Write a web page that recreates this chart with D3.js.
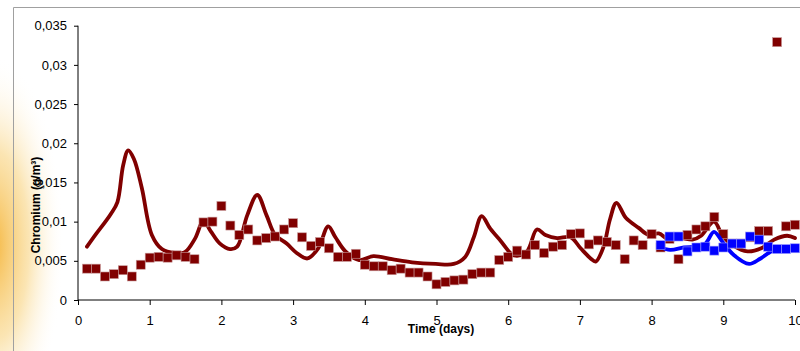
<!DOCTYPE html>
<html>
<head>
<meta charset="utf-8">
<script src="https://cdn.jsdelivr.net/npm/d3@7"></script>
<style>
  body { margin: 0; background: #fff; }
  svg { display: block; font-family: "Liberation Sans", Arial, sans-serif; }
</style>
</head>
<body>
<script>
// measured chromium (red squares), every 3 h
const measX = d3.range(1, 81).map(i => i * 0.125);
const measY = [
  0.0040, 0.0040, 0.0030, 0.0033, 0.0038, 0.0030, 0.0045, 0.0054, 0.0055, 0.0054,
  0.0057, 0.0055, 0.0052, 0.0099, 0.0100, 0.0120, 0.0095, 0.0083, 0.0090, 0.0076,
  0.0079, 0.0081, 0.0090, 0.0098, 0.0080, 0.0069, 0.0074, 0.0066, 0.0055, 0.0055,
  0.0059, 0.0045, 0.0043, 0.0043, 0.0038, 0.0040, 0.0035, 0.0035, 0.0030, 0.0020,
  0.0023, 0.0025, 0.0026, 0.0033, 0.0035, 0.0035, 0.0051, 0.0055, 0.0063, 0.0058,
  0.0070, 0.0060, 0.0068, 0.0070, 0.0084, 0.0085, 0.0071, 0.0076, 0.0074, 0.0070,
  0.0052, 0.0076, 0.0070, 0.0084, 0.0067, 0.0078, 0.0052, 0.0083, 0.0090, 0.0094,
  0.0106, 0.0084, 0.0072, 0.0072, 0.0080, 0.0088, 0.0088, 0.0329, 0.0094, 0.0096
];
// second measured series (blue squares)
const blueX = d3.range(65, 81).map(i => i * 0.125);
const blueY = [
  0.0070, 0.0081, 0.0081, 0.0062, 0.0067, 0.0068, 0.0063, 0.0067,
  0.0072, 0.0072, 0.0081, 0.0077, 0.0068, 0.0065, 0.0065, 0.0066
];
// modelled curves
const modelX = [0.125, 0.25, 0.375, 0.46, 0.55, 0.63, 0.70, 0.78, 0.89, 1.03, 1.17, 1.35, 1.49, 1.63, 1.75,
  1.85, 1.98, 2.12, 2.22, 2.36, 2.50, 2.63, 2.75, 2.91, 3.05, 3.20, 3.35, 3.49, 3.59, 3.73, 3.92,
  4.12, 4.38, 4.66, 4.99, 5.24, 5.40, 5.52, 5.63, 5.75, 5.89, 6.08, 6.26, 6.40, 6.52, 6.68, 6.87,
  7.01, 7.15, 7.22, 7.33, 7.42, 7.51, 7.64, 7.82, 7.96, 8.10, 8.24, 8.41, 8.57, 8.69, 8.87, 8.99,
  9.13, 9.34, 9.53, 9.71, 9.89, 10.0];
const modelY = [0.0068, 0.0084, 0.0099, 0.0110, 0.0125, 0.0172, 0.0191, 0.0180, 0.0143, 0.0083, 0.0065, 0.0060, 0.0061, 0.0078, 0.0101,
  0.0088, 0.0072, 0.0065, 0.0068, 0.0108, 0.0134, 0.0108, 0.0083, 0.0072, 0.0060, 0.0053, 0.0066, 0.0094, 0.0080, 0.0062, 0.0051,
  0.0056, 0.0052, 0.0048, 0.0046, 0.0046, 0.0055, 0.0080, 0.0107, 0.0091, 0.0076, 0.0057, 0.0062, 0.0090, 0.0083, 0.0079, 0.0080,
  0.0066, 0.0053, 0.0049, 0.0068, 0.0103, 0.0124, 0.0105, 0.0092, 0.0083, 0.0085, 0.0077, 0.0079, 0.0077, 0.0082, 0.0100, 0.0082,
  0.0070, 0.0062, 0.0066, 0.0077, 0.0082, 0.0079];
const blueModelX = [8.10, 8.26, 8.45, 8.63, 8.75, 8.87, 8.99, 9.15, 9.36, 9.52, 9.71, 9.89, 10.0];
const blueModelY = [0.0068, 0.0064, 0.0067, 0.0068, 0.0072, 0.0087, 0.0074, 0.0057, 0.0046, 0.0053, 0.0064, 0.0066, 0.0066];

const yTicks = [0, 0.005, 0.01, 0.015, 0.02, 0.025, 0.03, 0.035];
const xTicks = d3.range(0, 11);

const width = 800, height = 351;
const svg = d3.select('body').append('svg').attr('width', width).attr('height', height);

// orange glow at the left edge
const defs = svg.append('defs');
const glow = defs.append('radialGradient').attr('id', 'glow')
  .attr('cx', 0.5).attr('cy', 0.5).attr('r', 0.5);
glow.append('stop').attr('offset', '0%').attr('stop-color', '#f4b02e').attr('stop-opacity', 0.9);
glow.append('stop').attr('offset', '50%').attr('stop-color', '#f7cb68').attr('stop-opacity', 0.5);
glow.append('stop').attr('offset', '100%').attr('stop-color', '#fff').attr('stop-opacity', 0);
svg.append('ellipse').attr('cx', -6).attr('cy', 245).attr('rx', 70).attr('ry', 190).attr('fill', 'url(#glow)');

// chart frame
svg.append('path').attr('d', 'M13.5,351 V7.5 H800')
  .attr('fill', 'none').attr('stroke', '#a0a0a0').attr('stroke-width', 1);

const x = d3.scaleLinear().domain([0, 10]).range([78, 795]);
const y = d3.scaleLinear().domain([0, 0.035]).range([300, 25.7]);

const fmt = d => d === 0 ? '0' : String(+d.toFixed(3)).replace('.', ',');

const yAxis = svg.append('g').attr('transform', 'translate(78,0)')
  .call(d3.axisLeft(y).tickValues(yTicks).tickFormat(fmt).tickSize(4).tickPadding(7));
const xAxis = svg.append('g').attr('transform', 'translate(0,300)')
  .call(d3.axisBottom(x).tickValues(xTicks).tickFormat(d3.format('d')).tickSize(5).tickPadding(11));
[yAxis, xAxis].forEach(g => {
  g.select('.domain').attr('stroke', '#000');
  g.selectAll('.tick line').attr('stroke', '#000');
  g.selectAll('text').attr('font-size', 13).attr('fill', '#000')
    .attr('font-family', '"Liberation Sans", Arial, sans-serif');
});
yAxis.select('.domain').attr('d', 'M0,' + y(0) + 'V' + y(0.035));
xAxis.select('.domain').attr('d', 'M' + x(0) + ',0H' + x(10));

// model lines
const line = d3.line().x(d => x(d[0])).y(d => y(d[1])).curve(d3.curveCatmullRom.alpha(0.5));
svg.append('path').datum(d3.zip(modelX, modelY)).attr('d', line)
  .attr('fill', 'none').attr('stroke', '#800000').attr('stroke-width', 3.8)
  .attr('stroke-linejoin', 'round').attr('stroke-linecap', 'round');

// red squares
const sz = 9;
svg.append('g').selectAll('rect').data(d3.zip(measX, measY)).enter().append('rect')
  .attr('x', d => x(d[0]) - sz / 2).attr('y', d => y(d[1]) - sz / 2)
  .attr('width', sz).attr('height', sz)
  .attr('fill', '#800000').attr('stroke', '#c89a9a').attr('stroke-width', 0.6);

svg.append('path').datum(d3.zip(blueModelX, blueModelY)).attr('d', line)
  .attr('fill', 'none').attr('stroke', '#0000ff').attr('stroke-width', 3.8)
  .attr('stroke-linejoin', 'round').attr('stroke-linecap', 'round');

svg.append('g').selectAll('rect').data(d3.zip(blueX, blueY)).enter().append('rect')
  .attr('x', d => x(d[0]) - sz / 2).attr('y', d => y(d[1]) - sz / 2)
  .attr('width', sz).attr('height', sz)
  .attr('fill', '#0000ff').attr('stroke', '#9a9aff').attr('stroke-width', 0.6);

// axis titles
svg.append('text').attr('x', 441).attr('y', 333).attr('text-anchor', 'middle')
  .attr('font-size', 12).attr('font-weight', 'bold').text('Time (days)');
svg.append('text').attr('transform', 'translate(40,205) rotate(-90)').attr('text-anchor', 'middle')
  .attr('font-size', 12).attr('font-weight', 'bold').text('Chromium (g/m³)');
</script>
</body>
</html>
